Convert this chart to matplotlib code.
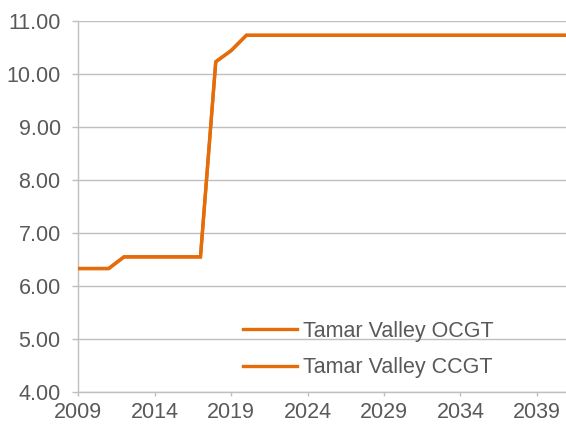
#!/usr/bin/env python3

import matplotlib
matplotlib.use('Agg')
import matplotlib.pyplot as plt

years = list(range(2009, 2042))
ocgt = [6.33, 6.33, 6.33, 6.55, 6.55, 6.55, 6.55, 6.55, 6.55,
        10.23, 10.44, 10.73] + [10.73] * 21
ccgt = list(ocgt)  # same values, drawn on top

series_names = ['Tamar Valley OCGT', 'Tamar Valley CCGT']
line_color = '#E46C0A'
grey_text = '#595959'
grid_color = '#BFBFBF'

plt.rcParams['font.family'] = ['Liberation Sans', 'DejaVu Sans']

fig = plt.figure(figsize=(5.66, 4.28), dpi=100)
ax = fig.add_axes([0.138, 0.084, 0.862, 0.867])

ax.plot(years, ocgt, color=line_color, linewidth=2.4, label=series_names[0],
        solid_joinstyle='miter', zorder=3)
ax.plot(years, ccgt, color=line_color, linewidth=2.4, label=series_names[1],
        solid_joinstyle='miter', zorder=3)

ax.set_xlim(2009, 2040.9)
ax.set_ylim(4, 11)
ax.set_yticks([4, 5, 6, 7, 8, 9, 10, 11])
ax.set_yticklabels(['{0:.2f}'.format(v) for v in [4, 5, 6, 7, 8, 9, 10, 11]])
ax.set_xticks(list(range(2009, 2041, 5)))

ax.yaxis.grid(True, color=grid_color, linewidth=1.0)
ax.set_axisbelow(True)
for side in ('top', 'right'):
    ax.spines[side].set_visible(False)
for side in ('left', 'bottom'):
    ax.spines[side].set_color(grid_color)
    ax.spines[side].set_linewidth(1.0)

ax.tick_params(axis='both', colors=grid_color, labelcolor=grey_text,
               labelsize=15.5, width=1.0)
ax.tick_params(axis='y', length=4.5, pad=8)
ax.tick_params(axis='x', length=3, pad=4)

leg = ax.legend(loc='upper left', bbox_to_anchor=(243 / 566, 1 - 321 / 428),
                bbox_transform=fig.transFigure, frameon=False,
                fontsize=15.5, handlelength=2.5, handletextpad=0.3,
                labelspacing=0.72, borderpad=0, borderaxespad=0)
for t in leg.get_texts():
    t.set_color(grey_text)

plt.savefig('out.png', dpi=100)
